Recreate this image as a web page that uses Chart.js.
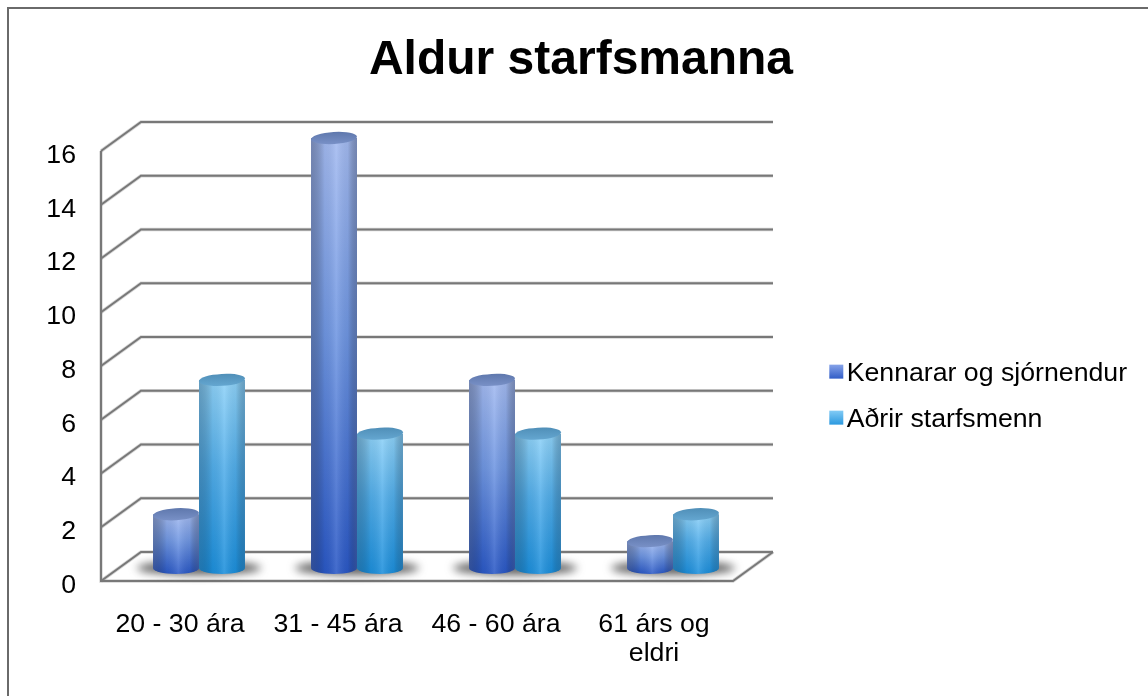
<!DOCTYPE html>
<html><head><meta charset="utf-8">
<style>html,body{margin:0;padding:0;background:#fff}#w{width:1148px;height:696px}</style>
<script src="https://cdn.jsdelivr.net/npm/chart.js@4"></script></head>
<body><div id="w"><canvas id="c" width="1148" height="696"></canvas></div>
<script>
const titleText = 'Aldur starfsmanna';
const categories = ['20 - 30 ára', '31 - 45 ára', '46 - 60 ára', ['61 árs og', 'eldri']];
const seriesNames = ['Kennarar og sjórnendur', 'Aðrir starfsmenn'];
const teachers = [2, 16, 7, 1];
const others = [7, 5, 5, 2];
const yTicks = [0, 2, 4, 6, 8, 10, 12, 14, 16];

const FONT = '"Liberation Sans", Arial, sans-serif';
const C1 = '#4a74d0', C2 = '#3fa5e6';
const PAL = {
  [C1]: {top:'#a3baf0', mid:'#6f96e2', bot:'#2a58c6', edge:'rgba(60,70,100,0.45)', cap:'#7890c6', capEdge:'#5f78ad'},
  [C2]: {top:'#8fd2f8', mid:'#52aeea', bot:'#1c8fdc', edge:'rgba(40,80,110,0.4)', cap:'#64a6d0', capEdge:'#508fb8'}
};
const DEPTH_X = 40, DEPTH_Y = 29, MID_X = 19, MID_Y = 13, RY = 6, LEGEND_TEXT_SHIFT = 10, LEGEND_TEXT_DROP = 2;

class CylinderBar extends Chart.BarElement {
  draw(ctx) {
    const p = PAL[this.options.backgroundColor];
    const cx = this.x + MID_X, w = this.width, l = cx - w/2, r = cx + w/2;
    const t = this.y - MID_Y, b = this.base - MID_Y;
    const shape = () => {
      ctx.beginPath();
      ctx.moveTo(l, t);
      ctx.lineTo(l, b);
      ctx.ellipse(cx, b, w/2, RY, 0, Math.PI, 0, true);
      ctx.lineTo(r, t);
      ctx.closePath();
    };
    ctx.save();
    const v = ctx.createLinearGradient(0, t, 0, b + RY);
    v.addColorStop(0, p.top); v.addColorStop(0.45, p.mid); v.addColorStop(1, p.bot);
    shape(); ctx.fillStyle = v; ctx.fill();
    const h = ctx.createLinearGradient(l, 0, r, 0);
    h.addColorStop(0, p.edge);
    h.addColorStop(0.3, 'rgba(0,0,0,0.05)');
    h.addColorStop(0.55, 'rgba(255,255,255,0.12)');
    h.addColorStop(0.8, 'rgba(0,0,0,0.06)');
    h.addColorStop(1, p.edge);
    shape(); ctx.fillStyle = h; ctx.fill();
    ctx.beginPath();
    ctx.ellipse(cx, t, w/2, RY, -0.06, 0, Math.PI*2);
    const c = ctx.createLinearGradient(0, t - RY, 0, t + RY);
    c.addColorStop(0, p.capEdge); c.addColorStop(1, p.cap);
    ctx.fillStyle = c; ctx.fill();
    ctx.restore();
  }
}
CylinderBar.id = 'cylinderBar';
CylinderBar.defaults = Chart.BarElement.defaults;
CylinderBar.defaultRoutes = Chart.BarElement.defaultRoutes;

class CylinderController extends Chart.BarController {}
CylinderController.id = 'cylinder';
CylinderController.defaults = Object.assign({}, Chart.BarController.defaults, {dataElementType: 'cylinderBar'});
CylinderController.overrides = Chart.BarController.overrides;
Chart.register(CylinderBar, CylinderController);

function gridLine(ctx, pts) {
  ctx.beginPath();
  pts.forEach((q, i) => i ? ctx.lineTo(q[0], q[1]) : ctx.moveTo(q[0], q[1]));
  ctx.strokeStyle = 'rgba(134,134,134,0.35)'; ctx.lineWidth = 3.4; ctx.stroke();
  ctx.strokeStyle = '#787878'; ctx.lineWidth = 2; ctx.stroke();
}

const stage = {
  id: 'stage',
  beforeInit(chart) {
    const ctx = chart.ctx, ft = ctx.fillText;
    ctx.fillText = function (s, x, y, m) {
      const isLegend = seriesNames.includes(s);
      const nx = isLegend ? x - LEGEND_TEXT_SHIFT : x, ny = isLegend ? y + LEGEND_TEXT_DROP : y;
      return m === undefined ? ft.call(this, s, nx, ny) : ft.call(this, s, nx, ny, m);
    };
  },
  beforeLayout(chart) {
    const lg = chart.legend;
    if (lg && !lg._wrapped) {
      const fit = lg.fit;
      lg.fit = function () { fit.call(this); this.width = 415; };
      lg._wrapped = true;
    }
  },
  afterLayout(chart) {
    const lg = chart.legend;
    lg.left = 810; lg.right = 1148; lg.top = 339;
    const tb = chart.titleBlock;
    tb.left += 7; tb.right += 7;
  },
  beforeDraw(chart) {
    const ctx = chart.ctx;
    ctx.save();
    ctx.strokeStyle = '#6a6a6a'; ctx.lineWidth = 2;
    ctx.beginPath();
    ctx.moveTo(8, 696); ctx.lineTo(8, 8); ctx.lineTo(1148, 8);
    ctx.stroke();
    ctx.restore();
  },
  beforeDatasetsDraw(chart) {
    const ctx = chart.ctx, {left, right} = chart.chartArea;
    const ys = chart.scales.y;
    ctx.save();
    yTicks.forEach(v => {
      const y = ys.getPixelForValue(v);
      gridLine(ctx, [[left, y], [left + DEPTH_X, y - DEPTH_Y], [right + DEPTH_X, y - DEPTH_Y]]);
    });
    const b = ys.getPixelForValue(0), t = ys.getPixelForValue(16);
    gridLine(ctx, [[left, t], [left, b], [right, b], [right + DEPTH_X, b - DEPTH_Y]]);
    const a = chart.getDatasetMeta(0).data, o = chart.getDatasetMeta(1).data;
    a.forEach((e, i) => {
      const l = e.x - e.width/2 + MID_X, r = o[i].x + o[i].width/2 + MID_X;
      ctx.save();
      ctx.filter = 'blur(4px)';
      ctx.fillStyle = 'rgba(70,70,70,0.85)';
      ctx.beginPath();
      ctx.ellipse((l + r)/2, e.base - MID_Y, (r - l)/2 + 16, 7, 0, 0, Math.PI*2);
      ctx.fill();
      ctx.restore();
    });
    ctx.restore();
  }
};

new Chart(document.getElementById('c'), {
  type: 'cylinder',
  plugins: [stage],
  data: {
    labels: categories,
    datasets: [
      {label: seriesNames[0], data: teachers, backgroundColor: C1, clip: false},
      {label: seriesNames[1], data: others, backgroundColor: C2, clip: false}
    ]
  },
  options: {
    responsive: false,
    animation: false,
    categoryPercentage: 0.582,
    barPercentage: 1,
    layout: {padding: {left: 0, right: 0, top: 0, bottom: 0}},
    plugins: {
      tooltip: {enabled: false},
      title: {
        display: true, text: titleText, color: '#000',
        font: {family: FONT, size: 48, weight: 'bold'},
        padding: {top: 32, bottom: 61.4}
      },
      legend: {
        position: 'right', align: 'start',
        labels: {
          font: {family: FONT, size: 26.7}, color: '#000',
          boxWidth: 14, boxHeight: 14, padding: 19.3,
          generateLabels(chart) {
            const g = chart.ctx;
            const mk = (y, a, b) => { const q = g.createLinearGradient(0, y, 0, y + 14); q.addColorStop(0, a); q.addColorStop(1, b); return q; };
            return [
              {text: seriesNames[0], fillStyle: mk(364, '#8aa6ea', '#3560c8'), strokeStyle: 'transparent', lineWidth: 0, datasetIndex: 0},
              {text: seriesNames[1], fillStyle: mk(410, '#86cdf6', '#2f9be0'), strokeStyle: 'transparent', lineWidth: 0, datasetIndex: 1}
            ];
          }
        }
      }
    },
    scales: {
      x: {
        grid: {display: false}, border: {display: false},
        ticks: {color: '#000', font: {family: FONT, size: 26.7, lineHeight: 1.09}, padding: 21, maxRotation: 0, minRotation: 0, autoSkip: false},
        afterFit(s) { s.height = 115; }
      },
      y: {
        min: 0, max: 16,
        grid: {display: false}, border: {display: false},
        ticks: {color: '#000', font: {family: FONT, size: 26.7}, padding: 17, stepSize: 2, labelOffset: 4.5},
        afterBuildTicks(s) { s.ticks = yTicks.map(v => ({value: v})); },
        afterFit(s) { s.width = 101; }
      }
    }
  }
});
</script></body></html>
